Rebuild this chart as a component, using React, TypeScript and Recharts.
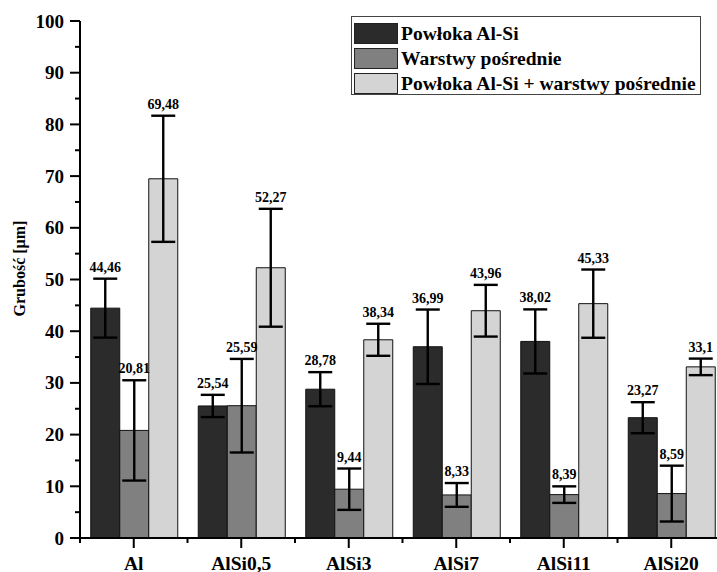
import React from "react";
import {
    BarChart,
    Bar,
    XAxis,
    YAxis,
    ErrorBar,
    LabelList,
    Legend,
    Label,
} from "recharts";

const categories = ["Al", "AlSi0,5", "AlSi3", "AlSi7", "AlSi11", "AlSi20"];

const powlokaValues = [44.46, 25.54, 28.78, 36.99, 38.02, 23.27];
const powlokaErrors = [5.7, 2.15, 3.3, 7.2, 6.2, 3.0];

const posrednieValues = [20.81, 25.59, 9.44, 8.33, 8.39, 8.59];
const posrednieErrors = [9.7, 9.05, 4.0, 2.3, 1.6, 5.4];

const sumaValues = [69.48, 52.27, 38.34, 43.96, 45.33, 33.1];
const sumaErrors = [12.2, 11.4, 3.1, 5.0, 6.6, 1.6];

const yTicks = [0, 5, 10, 15, 20, 25, 30, 35, 40, 45, 50, 55, 60, 65, 70, 75, 80, 85, 90, 95, 100];
const xTicks = [0.5, 1, 1.5, 2, 2.5, 3, 3.5, 4, 4.5, 5, 5.5, 6, 6.5];

const FONT = "'Liberation Serif', 'Times New Roman', serif";

const series = [
    { key: "powloka", name: "Powłoka Al-Si", color: "#2b2b2b", errors: powlokaErrors },
    { key: "posrednie", name: "Warstwy pośrednie", color: "#808080", errors: posrednieErrors },
    { key: "suma", name: "Powłoka Al-Si + warstwy pośrednie", color: "#d4d4d4", errors: sumaErrors },
];

const data = categories.map((name, i) => ({
    pos: i + 1,
    name,
    powloka: powlokaValues[i],
    powlokaErr: powlokaErrors[i],
    posrednie: posrednieValues[i],
    posrednieErr: posrednieErrors[i],
    suma: sumaValues[i],
    sumaErr: sumaErrors[i],
}));

const fmt = (v: number) => String(v).replace(".", ",");

function YTick({ x, y, payload }: any) {
    const v = payload.value;
    const major = v % 10 === 0;
    return (
        <g>
            <line x1={x - (major ? 10 : 5)} x2={x} y1={y} y2={y} stroke="#000" strokeWidth={2} />
            {major && (
                <text
                    x={x - 16}
                    y={y + 6.5}
                    textAnchor="end"
                    fontFamily={FONT}
                    fontWeight="bold"
                    fontSize={19}
                    fill="#000"
                >
                    {v}
                </text>
            )}
        </g>
    );
}

function XTick({ x, y, payload }: any) {
    const v = payload.value;
    const major = Number.isInteger(v);
    return (
        <g>
            <line x1={x} x2={x} y1={y} y2={y + (major ? 10 : 5)} stroke="#000" strokeWidth={2} />
            {major && (
                <text
                    x={x}
                    y={y + 31.5}
                    textAnchor="middle"
                    fontFamily={FONT}
                    fontWeight="bold"
                    fontSize={19.5}
                    fill="#000"
                >
                    {categories[v - 1]}
                </text>
            )}
        </g>
    );
}

function makeValueLabel(errors: number[]) {
    return (props: any) => {
        const { x, y, width, height, value, index } = props;
        const pxPerUnit = height / value;
        const capY = y - errors[index] * pxPerUnit;
        return (
            <text
                x={x + width / 2}
                y={capY - 7}
                textAnchor="middle"
                fontFamily={FONT}
                fontWeight="bold"
                fontSize={14}
                fill="#000"
            >
                {fmt(value)}
            </text>
        );
    };
}

function YLabel({ viewBox }: any) {
    const cx = viewBox.x + 19;
    const cy = viewBox.y + viewBox.height / 2 - 11;
    return (
        <text
            x={cx}
            y={cy}
            transform={`rotate(-90, ${cx}, ${cy})`}
            textAnchor="middle"
            dominantBaseline="central"
            fill="#000"
            style={{ fontFamily: FONT, fontWeight: "bold", fontSize: "16px" }}
        >
            Grubość [µm]
        </text>
    );
}

function LegendBox() {
    return (
        <div
            style={{
                border: "1px solid #444",
                background: "#fff",
                padding: "4px 2px 2px 2px",
                boxSizing: "border-box",
                width: 350,
                height: 79,
            }}
        >
            {series.map((s) => (
                <div
                    key={s.key}
                    style={{ display: "flex", alignItems: "center", height: 25 }}
                >
                    <div
                        style={{
                            width: 44,
                            height: 21,
                            boxSizing: "border-box",
                            background: s.color,
                            border: "1.5px solid #222",
                            marginRight: 3,
                        }}
                    />
                    <span
                        style={{
                            fontFamily: FONT,
                            fontWeight: "bold",
                            fontSize: 19.5,
                            color: "#000",
                            lineHeight: "21px",
                            whiteSpace: "nowrap",
                        }}
                    >
                        {s.name}
                    </span>
                </div>
            ))}
        </div>
    );
}

export default function App() {
    return (
        <div
            style={{
                position: "absolute",
                left: 0,
                top: 0,
                width: 717,
                height: 572,
                overflow: "hidden",
                background: "#fff",
            }}
        >
            <BarChart
                width={740}
                height={572}
                data={data}
                margin={{ top: 21, right: 15, bottom: 0, left: 0 }}
                barCategoryGap="10%"
                barGap={0}
            >
                <XAxis
                    type="number"
                    dataKey="pos"
                    domain={[0.5, 6.5]}
                    ticks={xTicks}
                    interval={0}
                    height={34}
                    tickSize={0}
                    tickMargin={0}
                    tickLine={false}
                    axisLine={{ stroke: "#000", strokeWidth: 2 }}
                    tick={<XTick />}
                />
                <YAxis
                    type="number"
                    domain={[0, 100]}
                    ticks={yTicks}
                    interval={0}
                    width={80}
                    tickSize={0}
                    tickMargin={0}
                    tickLine={false}
                    axisLine={{ stroke: "#000", strokeWidth: 2 }}
                    tick={<YTick />}
                >
                    <Label content={<YLabel />} />
                </YAxis>
                <Legend
                    layout="horizontal"
                    verticalAlign="middle"
                    align="center"
                    wrapperStyle={{ left: 351, top: 16, width: 350, height: 79 }}
                    content={<LegendBox />}
                />
                {series.map((s) => (
                    <Bar
                        key={s.key}
                        dataKey={s.key}
                        name={s.name}
                        fill={s.color}
                        stroke="#111"
                        strokeWidth={1}
                        isAnimationActive={false}
                    >
                        <ErrorBar
                            dataKey={s.key + "Err"}
                            width={12}
                            strokeWidth={2.4}
                            stroke="#000"
                            direction="y"
                            isAnimationActive={false}
                        />
                        <LabelList dataKey={s.key} content={makeValueLabel(s.errors)} />
                    </Bar>
                ))}
            </BarChart>
        </div>
    );
}
